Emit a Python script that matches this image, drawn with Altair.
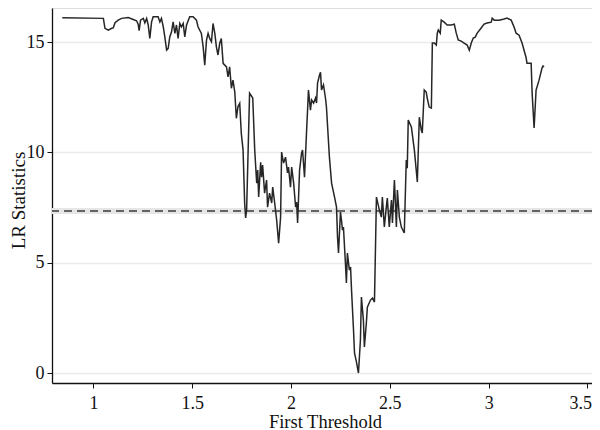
import altair as alt
import pandas as pd

threshold = [
    0.842, 1.050, 1.058, 1.075, 1.092, 1.100, 1.109, 1.125, 1.142, 1.176,
    1.201, 1.218, 1.226, 1.231, 1.238, 1.252, 1.260, 1.269, 1.277, 1.285,
    1.294, 1.302, 1.327, 1.336, 1.344, 1.353, 1.361, 1.370, 1.378, 1.386,
    1.395, 1.403, 1.412, 1.420, 1.428, 1.437, 1.445, 1.454, 1.462, 1.471,
    1.487, 1.504, 1.521, 1.529, 1.546, 1.555, 1.563, 1.572, 1.580, 1.588,
    1.597, 1.605, 1.614, 1.622, 1.630, 1.639, 1.647, 1.656, 1.673, 1.681,
    1.689, 1.698, 1.706, 1.715, 1.723, 1.731, 1.740, 1.748, 1.757, 1.765,
    1.770, 1.775, 1.790, 1.806, 1.816, 1.826, 1.831, 1.836, 1.846, 1.851,
    1.856, 1.866, 1.876, 1.881, 1.891, 1.902, 1.907, 1.917, 1.927, 1.937,
    1.947, 1.952, 1.962, 1.972, 1.982, 1.987, 1.997, 2.003, 2.013, 2.023,
    2.028, 2.033, 2.038, 2.043, 2.053, 2.058, 2.068, 2.078, 2.083, 2.088,
    2.098, 2.104, 2.114, 2.124, 2.129, 2.134, 2.144, 2.149, 2.154, 2.164,
    2.174, 2.179, 2.194, 2.205, 2.220, 2.230, 2.235, 2.240, 2.250, 2.255,
    2.260, 2.265, 2.275, 2.280, 2.285, 2.295, 2.301, 2.306, 2.316, 2.321,
    2.331, 2.341, 2.351, 2.356, 2.366, 2.371, 2.381, 2.386, 2.402, 2.412,
    2.422, 2.432, 2.447, 2.457, 2.462, 2.472, 2.482, 2.487, 2.497, 2.508,
    2.513, 2.523, 2.533, 2.538, 2.548, 2.558, 2.573, 2.583, 2.588, 2.593,
    2.609, 2.624, 2.639, 2.649, 2.659, 2.664, 2.674, 2.684, 2.689, 2.699,
    2.710, 2.715, 2.725, 2.735, 2.740, 2.745, 2.755, 2.760, 2.775, 2.790,
    2.811, 2.826, 2.836, 2.846, 2.861, 2.876, 2.891, 2.902, 2.912, 2.922,
    2.932, 2.942, 2.962, 2.977, 2.992, 3.013, 3.018, 3.028, 3.053, 3.078,
    3.093, 3.114, 3.129, 3.139, 3.154, 3.169, 3.189, 3.194, 3.215, 3.220,
    3.230, 3.240, 3.255, 3.270, 3.275, 3.280,
]

lr_stat = [
    16.11, 16.08, 15.63, 15.55, 15.63, 15.65, 15.88, 16.00, 16.08, 16.12,
    16.03, 15.97, 15.82, 15.52, 16.00, 16.08, 15.88, 16.08, 15.78, 15.17,
    15.92, 16.15, 16.15, 15.92, 16.08, 15.70, 15.24, 14.64, 14.72, 15.24,
    15.47, 15.92, 15.40, 15.78, 15.17, 15.85, 15.70, 15.85, 15.24, 15.78,
    16.15, 16.15, 16.00, 15.70, 15.40, 14.79, 13.96, 15.10, 15.40, 15.17,
    15.02, 15.85, 15.40, 14.79, 14.42, 14.95, 15.17, 14.04, 13.88, 13.43,
    13.88, 12.91, 13.28, 12.75, 11.55, 12.07, 12.23, 10.87, 10.11, 7.71,
    7.03, 7.39, 12.69, 12.47, 10.11, 8.61, 9.20, 7.98, 9.56, 8.88,
    9.43, 8.16, 8.75, 7.52, 8.16, 7.71, 8.43, 7.71, 6.94, 5.89,
    7.07, 10.02, 9.52, 9.79, 9.07, 9.34, 8.43, 9.34, 8.61, 7.52,
    7.75, 6.80, 7.98, 9.20, 9.97, 10.11, 8.88, 10.88, 11.83, 12.83,
    11.92, 12.38, 12.24, 12.47, 12.24, 13.15, 13.51, 13.64, 12.83, 13.06,
    12.47, 12.06, 9.79, 8.61, 7.98, 7.52, 6.17, 5.44, 7.30, 6.94,
    6.48, 6.62, 4.99, 4.08, 5.44, 4.67, 4.81, 3.76, 1.95, 0.91,
    0.50, 0.00, 1.50, 3.45, 2.40, 1.18, 2.27, 2.99, 3.31, 3.40,
    3.22, 7.98, 7.39, 7.07, 7.98, 6.62, 7.52, 7.93, 6.62, 7.84,
    6.80, 8.75, 6.62, 8.30, 7.07, 6.62, 6.35, 9.66, 9.29, 11.47,
    11.15, 10.11, 8.66, 11.60, 11.02, 10.88, 12.83, 12.74, 12.47, 12.06,
    12.01, 14.96, 14.96, 14.87, 15.41, 15.55, 15.41, 16.00, 15.91, 15.78,
    15.78, 15.82, 15.41, 15.10, 15.05, 14.96, 14.87, 14.64, 14.96, 15.19,
    15.23, 15.41, 15.64, 15.82, 15.87, 15.91, 16.09, 16.00, 16.00, 16.05,
    16.09, 16.00, 15.68, 15.41, 15.32, 14.96, 14.32, 14.05, 14.05, 12.69,
    11.11, 12.83, 13.28, 13.83, 13.92, 13.87,
]

critical_value = [7.35]
x_ticks = [1, 1.5, 2, 2.5, 3, 3.5]
y_ticks = [0, 5, 10, 15]

df = pd.DataFrame({"threshold": threshold, "lr": lr_stat})
df_crit = pd.DataFrame({"crit": critical_value})

FONT = "Liberation Serif"

x_scale = alt.Scale(domain=[0.79, 3.523], nice=False, zero=False)
y_scale = alt.Scale(domain=[-0.45, 16.55], nice=False, zero=False)

line = alt.Chart(df).mark_line(color="#262626", strokeWidth=1.5).encode(
    x=alt.X(
        "threshold:Q",
        scale=x_scale,
        axis=alt.Axis(
            values=x_ticks,
            format="~g",
            title="First Threshold",
            grid=False,
            labelPadding=6,
            labelAlign=alt.condition(
                "datum.value == 3.5", alt.value("right"), alt.value("center")
            ),
            labelOffset=alt.condition(
                "datum.value == 3.5", alt.value(4), alt.value(0)
            ),
            titleFontSize=18.5,
            titleX=273,
            titleY=44,
            titleAlign="center",
            titleBaseline="alphabetic",
        ),
    ),
    y=alt.Y(
        "lr:Q",
        scale=y_scale,
        axis=alt.Axis(
            values=y_ticks,
            title="LR Statistics",
            grid=True,
            labelPadding=3,
            titleFontSize=19,
            titleAngle=270,
            titleX=-28,
            titleY=192,
            titleAlign="center",
            titleBaseline="alphabetic",
        ),
    ),
)

band = alt.Chart(df_crit).mark_rule(color="#e6e6e6", strokeWidth=6).encode(
    y=alt.Y("crit:Q", scale=y_scale)
)
dashed = alt.Chart(df_crit).mark_rule(
    color="#3a3a3a", strokeWidth=1.5, strokeDash=[8, 5]
).encode(y=alt.Y("crit:Q", scale=y_scale))

chart = (
    alt.layer(band, dashed, line)
    .properties(
        width=540,
        height=375,
        autosize=alt.AutoSizeParams(type="none"),
        padding={"left": 44, "top": 0, "right": 0, "bottom": 47},
    )
    .configure_view(stroke=None)
    .configure(font=FONT, background="white")
    .configure_axis(
        labelFont=FONT,
        titleFont=FONT,
        labelFontSize=18,
        labelColor="#111",
        titleColor="#111",
        titleFontWeight="normal",
        domainColor="#111",
        domainWidth=1.3,
        tickColor="#111",
        tickSize=5,
        gridColor="#ebebeb",
        gridWidth=1.5,
    )
)

chart.save("out.html", embed_options={"renderer": "svg", "actions": False})
